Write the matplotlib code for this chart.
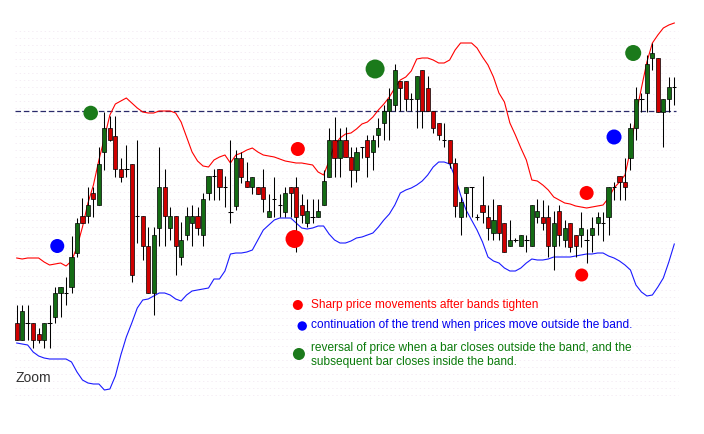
import numpy as np
import matplotlib.pyplot as plt

plt.rcParams['lines.scale_dashes'] = False

# --- Data (levels in screen units: 0 = top, larger = lower price) ---

opens = [323, 340, 323, 323, 334, 340, 323, 317, 293, 293,
         287, 253, 216, 216, 193, 205, 152, 128, 136, 169,
         169, 164, 216, 216, 246, 293, 228, 187, 228, 216,
         257, 235, 223, 216, 235, 193, 176, 169, 187, 212,
         206, 158, 181, 187, 187, 187, 217, 199, 205, 212,
         187, 187, 205, 223, 217, 217, 205, 177, 140, 158,
         140, 157, 170, 147, 140, 152, 135, 123, 111, 105,
         81, 81, 99, 99, 70, 88, 111, 123, 140, 140,
         163, 217, 193, 187, 217, 205, 217, 233, 205, 223,
         246, 240, 246, 240, 246, 217, 217, 217, 246, 211,
         240, 223, 235, 235, 240, 235, 223, 223, 217, 187,
         176, 182, 158, 128, 99, 93, 58, 58, 112, 99,
         87]
highs = [305, 305, 305, 323, 328, 323, 305, 287, 287, 277,
         236, 218, 198, 187, 187, 147, 112, 116, 116, 158,
         145, 164, 140, 216, 227, 227, 147, 169, 207, 216,
         222, 207, 205, 207, 193, 176, 169, 169, 176, 140,
         150, 152, 162, 177, 187, 169, 194, 177, 194, 187,
         187, 177, 194, 199, 199, 199, 170, 128, 117, 128,
         127, 147, 147, 147, 135, 135, 118, 105, 88, 64,
         81, 81, 93, 76, 70, 76, 111, 123, 123, 140,
         158, 197, 187, 187, 214, 176, 205, 199, 205, 223,
         220, 238, 235, 235, 205, 199, 200, 205, 211, 205,
         220, 223, 235, 212, 229, 217, 212, 212, 187, 182,
         176, 158, 123, 87, 93, 55, 43, 58, 99, 77,
         77]
lows = [340, 340, 340, 348, 343, 348, 348, 323, 317, 305,
        293, 257, 223, 223, 217, 205, 170, 141, 177, 182,
        177, 282, 243, 260, 293, 315, 246, 246, 240, 275,
        265, 240, 246, 235, 246, 200, 200, 200, 207, 223,
        210, 183, 187, 194, 194, 212, 217, 217, 217, 217,
        217, 252, 223, 227, 223, 217, 205, 177, 177, 177,
        157, 187, 182, 158, 177, 170, 147, 140, 140, 111,
        111, 111, 111, 128, 128, 111, 133, 140, 147, 168,
        217, 235, 217, 217, 220, 223, 240, 240, 240, 252,
        246, 242, 246, 252, 246, 223, 230, 257, 270, 246,
        247, 252, 257, 247, 263, 252, 235, 241, 235, 200,
        200, 200, 170, 140, 112, 112, 70, 112, 147, 112,
        105]
closes = [340, 311, 323, 340, 340, 323, 323, 293, 287, 293,
          257, 223, 223, 205, 199, 164, 128, 140, 169, 177,
          169, 275, 216, 246, 293, 235, 187, 216, 216, 246,
          240, 216, 216, 228, 199, 176, 176, 187, 187, 212,
          158, 177, 187, 177, 194, 199, 211, 199, 205, 193,
          193, 217, 215, 211, 217, 211, 181, 140, 158, 140,
          157, 170, 152, 147, 157, 140, 128, 111, 99, 70,
          88, 99, 99, 76, 111, 111, 128, 135, 140, 163,
          206, 202, 187, 187, 217, 212, 228, 220, 233, 252,
          240, 240, 235, 240, 205, 211, 223, 246, 223, 235,
          228, 247, 246, 228, 240, 228, 217, 223, 187, 187,
          182, 187, 128, 99, 99, 64, 53, 112, 99, 87,
          87]

upper_band = [258, 259, 258, 258, 258, 262, 265, 264, 263, 266,
              261, 247, 227, 203, 185, 160, 138, 115, 104, 101,
              98, 103, 108, 112, 113, 113, 111, 111, 111, 113,
              122, 137, 152, 161, 166, 167, 160, 157, 155, 163,
              155, 153, 150, 148, 152, 155, 156, 157, 159, 161,
              162, 163, 163, 164, 165, 172, 175, 161, 145, 138,
              134, 133, 129, 124, 122, 117, 110, 104, 97, 88,
              80, 77, 71, 59, 58, 58, 60, 63, 63, 60,
              50, 43, 43, 43, 48, 57, 65, 77, 93, 102,
              123, 135, 148, 160, 180, 181, 185, 190, 197, 200,
              203, 204, 206, 207, 208, 207, 206, 205, 198, 188,
              182, 175, 150, 115, 88, 62, 43, 35, 28, 25,
              23]
lower_band = [343, 344, 345, 352, 356, 358, 359, 359, 359, 359,
              362, 372, 380, 383, 384, 384, 390, 389, 376, 355,
              337, 323, 308, 300, 299, 296, 293, 293, 295, 299,
              301, 295, 291, 290, 289, 288, 279, 279, 271, 254,
              253, 253, 252, 250, 240, 230, 225, 220, 218, 218,
              218, 223, 228, 229, 228, 226, 226, 234, 240, 243,
              243, 241, 238, 237, 235, 233, 227, 220, 214, 205,
              193, 190, 188, 185, 181, 175, 167, 162, 162, 164,
              177, 195, 210, 220, 230, 242, 257, 261, 263, 268,
              271, 271, 268, 263, 259, 260, 260, 259, 257, 257,
              257, 257, 256, 255, 254, 254, 253, 253, 256, 258,
              261, 265, 270, 285, 292, 296, 295, 287, 278, 262,
              244]
resistance = 111

# signal dots (bar position, level)
red_pos = [51.3, 50.7, 104.0, 103.1]
red_lvl = [149, 239, 193, 275]
blue_pos = [7.4, 109.0]
blue_lvl = [246, 137]
green_pos = [13.5, 65.4, 112.5]
green_lvl = [113, 69, 53]

notes = ["Sharp price movements after bands tighten",
         "continuation of the trend when prices move outside the band.",
         "reversal of price when a bar closes outside the band, and the\nsubsequent bar closes inside the band."]

# --- Drawing ---

GREEN = '#146c14'
RED = '#d00000'

fig = plt.figure(figsize=(7.04, 4.34), dpi=100)
ax = fig.add_axes([0, 0, 1, 1])
ax.set_xlim(-3.05, 125.42)
ax.set_ylim(434, 0)
ax.axis('off')

n = len(opens)
x = np.arange(n)
o = np.array(opens)
c = np.array(closes)

# faint dotted background
for lvl in np.arange(31, 398, 7):
    ax.hlines(lvl, -0.3, 120.6, color='#f1e6f1', lw=0.5, ls=(0, (1, 2)), zorder=0)

ax.plot([-0.3, 120.3], [resistance, resistance], color='#2a2a6a', lw=0.9,
        dashes=(4.0, 2.0), zorder=1)

ax.plot(x, upper_band, color='#ff0000', lw=0.8, zorder=2)
ax.plot(x, lower_band, color='#1a1aff', lw=0.8, zorder=2)

# candles
ax.vlines(x, highs, lows, color='black', lw=0.75, zorder=3)
up = c < o
down = c > o
flat = c == o
ax.bar(x[up], o[up] - c[up], bottom=c[up], width=0.75, color=GREEN,
       edgecolor='black', lw=0.5, zorder=4)
ax.bar(x[down], c[down] - o[down], bottom=o[down], width=0.75, color=RED,
       edgecolor='black', lw=0.5, zorder=4)
ax.hlines(o[flat], x[flat] - 0.4, x[flat] + 0.4, color='black', lw=0.75, zorder=4)

# signal dots
ax.scatter(red_pos, red_lvl, s=[102, 168, 102, 88], color='#ff0000', lw=0, zorder=5)
ax.scatter(blue_pos, blue_lvl, s=[102, 117], color='#0000ff', lw=0, zorder=5)
ax.scatter(green_pos, green_lvl, s=[110, 187, 133], color='#1b7a1b', lw=0, zorder=5)

# notes
font = ['Liberation Sans', 'DejaVu Sans']
ax.scatter([51.3, 52.1, 51.5], [305, 326, 354], s=[52, 46, 75],
           color=['#ff0000', '#0000ff', '#1b7a1b'], lw=0, zorder=5)
ax.text(53.7, 305, notes[0], color='#ff0000', fontsize=8.6, family=font, va='center')
ax.text(53.7, 325, notes[1], color='#0000ee', fontsize=8.6, family=font, va='center')
ax.text(53.7, 355, notes[2], color='#0a7a0a', fontsize=8.6, family=font, va='center',
        linespacing=1.3)

ax.text(-0.2, 378, "Zoom", color='#333333', fontsize=10, family=font, va='center')

fig.savefig('out.png', dpi=100)
